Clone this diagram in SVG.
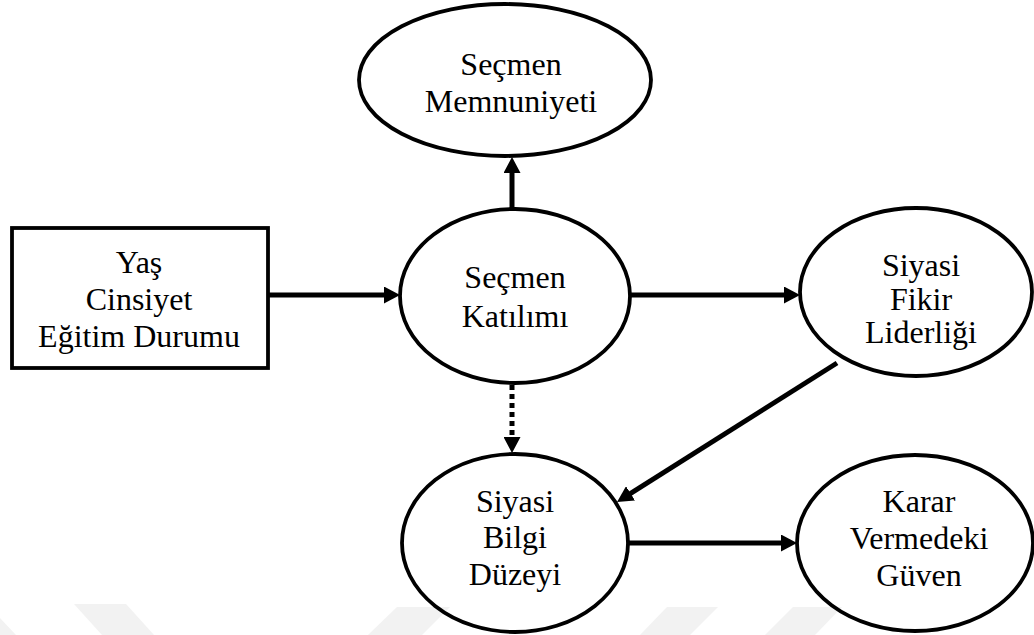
<svg xmlns="http://www.w3.org/2000/svg" width="1034" height="635" viewBox="0 0 1034 635">
  <style>
    .node { fill: none; stroke: #000; stroke-width: 3.8; }
    .label { font-family: "Liberation Serif", "Times New Roman", serif; font-size: 32px; fill: #000; text-anchor: middle; }
    .edge { stroke: #000; stroke-width: 5; fill: none; }
    .dashed { stroke-dasharray: 5 4; }
    .mark { fill: #f2f2f2; }
  </style>
  <defs>
    <marker id="arrow" viewBox="0 0 16 17" refX="6" refY="8.5" markerWidth="16" markerHeight="17" markerUnits="userSpaceOnUse" orient="auto">
      <path d="M0,0 L16,8.5 L0,17 z" fill="#000"/>
    </marker>
  </defs>
  <rect width="1034" height="635" fill="#fff"/>

  <!-- faint background bands along the bottom edge -->
  <g id="background-bands">
    <polygon class="mark" points="0,618 16,635 0,635"/>
    <polygon class="mark" points="74,604 126,604 154,635 102,635"/>
    <polygon class="mark" points="397,607 450,607 422,635 368,635"/>
    <polygon class="mark" points="667,607 718,607 690,635 640,635"/>
    <polygon class="mark" points="793,607 842,607 815,635 765,635"/>
  </g>

  <g id="connectors">
    <line class="edge" x1="268" y1="295" x2="390" y2="295" marker-end="url(#arrow)"/>
    <line class="edge" x1="630" y1="295" x2="790" y2="295" marker-end="url(#arrow)"/>
    <line class="edge" x1="512" y1="209" x2="512" y2="167" marker-end="url(#arrow)"/>
    <line class="edge dashed" x1="512" y1="385" x2="512" y2="443" marker-end="url(#arrow)"/>
    <line class="edge" x1="837" y1="363" x2="625.5" y2="496.6" marker-end="url(#arrow)"/>
    <line class="edge" x1="628" y1="543" x2="787" y2="543" marker-end="url(#arrow)"/>
  </g>

  <g id="demografi">
    <rect class="node" x="12" y="228" width="256" height="140" stroke-width="4"/>
    <text class="label" x="139" y="273">Yaş</text>
    <text class="label" x="139" y="310">Cinsiyet</text>
    <text class="label" x="139" y="347">Eğitim Durumu</text>
  </g>

  <g id="secmen-memnuniyeti">
    <ellipse class="node" cx="505" cy="80" rx="146" ry="76"/>
    <text class="label" x="511" y="75">Seçmen</text>
    <text class="label" x="511" y="112">Memnuniyeti</text>
  </g>

  <g id="secmen-katilimi">
    <ellipse class="node" cx="515" cy="296" rx="115" ry="87"/>
    <text class="label" x="515" y="288">Seçmen</text>
    <text class="label" x="515" y="327">Katılımı</text>
  </g>

  <g id="siyasi-fikir-liderligi">
    <ellipse class="node" cx="916" cy="292" rx="116" ry="84"/>
    <text class="label" x="921" y="276">Siyasi</text>
    <text class="label" x="921" y="310">Fikir</text>
    <text class="label" x="921" y="343">Liderliği</text>
  </g>

  <g id="siyasi-bilgi-duzeyi">
    <ellipse class="node" cx="515" cy="543" rx="113" ry="89"/>
    <text class="label" x="515" y="512">Siyasi</text>
    <text class="label" x="515" y="548">Bilgi</text>
    <text class="label" x="515" y="585">Düzeyi</text>
  </g>

  <g id="karar-vermedeki-guven">
    <ellipse class="node" cx="915" cy="543" rx="118" ry="88"/>
    <text class="label" x="919" y="512">Karar</text>
    <text class="label" x="919" y="549">Vermedeki</text>
    <text class="label" x="919" y="586">Güven</text>
  </g>
</svg>
